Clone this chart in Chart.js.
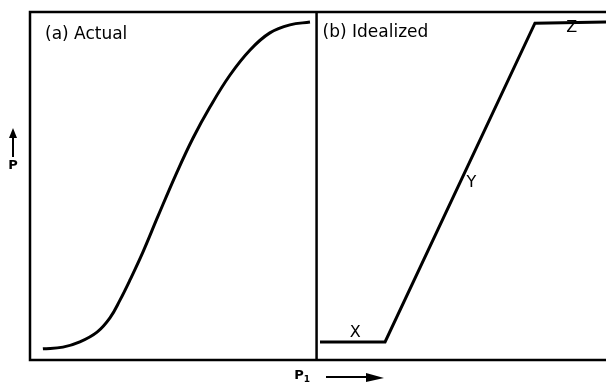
<!DOCTYPE html>
<html>
<head>
<meta charset="utf-8">
<title>Actual vs idealized response</title>
<script src="https://cdn.jsdelivr.net/npm/chart.js@4.4.1/dist/chart.umd.min.js"></script>
<style>
  html, body { margin: 0; padding: 0; background: #fff; }
  #wrap { width: 606px; height: 386px; }
</style>
</head>
<body>
<div id="wrap"><canvas id="chart"></canvas></div>
<script>
  // (a) measured curve, panel spans x 0..1
  const actualX = [0.045, 0.115, 0.174, 0.234, 0.279, 0.314, 0.349, 0.394, 0.447, 0.513, 0.569, 0.628, 0.698, 0.768, 0.837, 0.907, 0.977];
  const actualY = [0.032, 0.037, 0.052, 0.080, 0.121, 0.172, 0.230, 0.310, 0.414, 0.540, 0.638, 0.727, 0.819, 0.891, 0.940, 0.963, 0.971];

  // (b) idealized three-stage curve, panel spans x 1..2
  const idealX = [1.012, 1.239, 1.762, 2.01];
  const idealY = [0.052, 0.052, 0.968, 0.971];

  // stage labels on the idealized curve
  const stageNames = ['X', 'Y', 'Z'];
  const stageX = [1.135, 1.54, 1.89];
  const stageY = [0.078, 0.51, 0.955];

  const panelTitles = ['(a) Actual', '(b) Idealized'];

  const toPoints = (xs, ys) => xs.map((x, i) => ({ x: x, y: ys[i] }));

  // frame, divider, stage letters and axis captions
  const decorations = {
    id: 'decorations',
    afterDatasetsDraw(chart) {
      const { ctx, chartArea: a, scales } = chart;
      const xs = scales.x, ys = scales.y;
      const mid = xs.getPixelForValue(1);

      ctx.save();
      ctx.strokeStyle = '#000';
      ctx.lineWidth = 2.5;
      ctx.lineCap = 'square';
      ctx.beginPath();
      ctx.moveTo(a.right, a.top);
      ctx.lineTo(a.left, a.top);
      ctx.lineTo(a.left, a.bottom);
      ctx.lineTo(a.right, a.bottom);
      ctx.moveTo(mid, a.top);
      ctx.lineTo(mid, a.bottom);
      ctx.stroke();

      ctx.fillStyle = '#000';
      ctx.textBaseline = 'middle';
      ctx.textAlign = 'left';
      ctx.font = '17px "DejaVu Sans"';
      ctx.fillText(panelTitles[0], a.left + 15, a.top + 23);
      ctx.fillText(panelTitles[1], mid + 6, a.top + 21);

      ctx.textAlign = 'center';
      ctx.font = '16px "DejaVu Sans"';
      stageNames.forEach((s, i) => {
        ctx.fillText(s, xs.getPixelForValue(stageX[i]), ys.getPixelForValue(stageY[i]));
      });

      // y caption: arrow pointing up over P
      ctx.lineWidth = 2;
      ctx.lineCap = 'butt';
      ctx.beginPath();
      ctx.moveTo(13, 157);
      ctx.lineTo(13, 136);
      ctx.stroke();
      ctx.beginPath();
      ctx.moveTo(13, 128);
      ctx.lineTo(9, 138);
      ctx.lineTo(17, 138);
      ctx.closePath();
      ctx.fill();
      ctx.font = 'bold 13px "DejaVu Sans"';
      ctx.fillText('P', 13, 166);

      // x caption: P1 with arrow pointing right
      ctx.font = 'bold 13px "DejaVu Sans"';
      ctx.fillText('P', 299, 376);
      ctx.font = 'bold 9px "DejaVu Sans"';
      ctx.fillText('1', 307, 380);
      ctx.beginPath();
      ctx.moveTo(326, 377);
      ctx.lineTo(370, 377);
      ctx.stroke();
      ctx.beginPath();
      ctx.moveTo(384, 378);
      ctx.lineTo(366, 373);
      ctx.lineTo(366, 382);
      ctx.closePath();
      ctx.fill();
      ctx.restore();
    }
  };

  new Chart(document.getElementById('chart'), {
    type: 'scatter',
    data: {
      datasets: [
        {
          label: 'Actual',
          data: toPoints(actualX, actualY),
          showLine: true,
          tension: 0.4,
          borderColor: '#000',
          borderWidth: 3,
          pointRadius: 0
        },
        {
          label: 'Idealized',
          data: toPoints(idealX, idealY),
          showLine: true,
          tension: 0,
          borderColor: '#000',
          borderWidth: 3,
          pointRadius: 0
        }
      ]
    },
    options: {
      responsive: true,
      maintainAspectRatio: false,
      animation: false,
      layout: { padding: { left: 30, top: 12, right: 0, bottom: 26 } },
      plugins: {
        legend: { display: false },
        tooltip: { enabled: false }
      },
      scales: {
        x: { type: 'linear', display: false, min: 0, max: 2.01 },
        y: { type: 'linear', display: false, min: 0, max: 1 }
      }
    },
    plugins: [decorations]
  });
</script>
</body>
</html>
